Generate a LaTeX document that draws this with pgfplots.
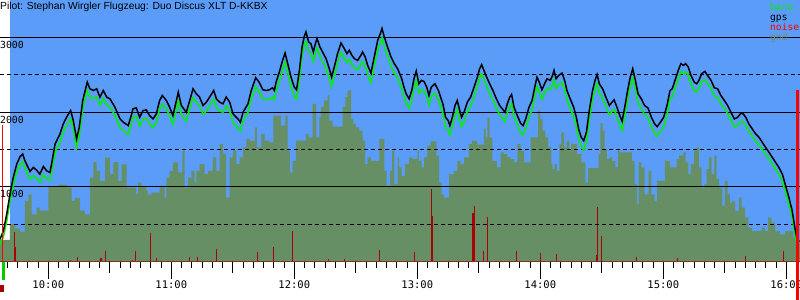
\documentclass[border=0pt]{standalone}
\usepackage{fontspec}
\setmainfont{Liberation Sans}
\newfontfamily\monofont{DejaVu Sans Mono}
\usepackage{pgfplots}
\pgfplotsset{compat=1.18}
\definecolor{skyblue}{RGB}{90,156,248}
\definecolor{gndcol}{RGB}{102,143,102}
\definecolor{gndtxt}{RGB}{118,140,100}
\definecolor{barocol}{RGB}{0,240,0}
\definecolor{noisecol}{RGB}{170,0,0}
\definecolor{basecol}{RGB}{150,0,0}

\pgfplotstableread{
t alt
576.4 296
578.1 408
579.7 632
581.3 900
582.9 1124
584.6 1304
586.2 1402
587.5 1438
588.6 1348
591.1 1205
592.7 1259
594.3 1223
595.9 1169
597.6 1272
599.2 1214
600.8 1192
601.6 1304
603.3 1572
605.7 1707
607.3 1841
608.9 1931
610.9 2020
612.2 1886
613.8 1640
615.1 1796
616.8 2155
618.4 2334
619.0 2401
620.3 2312
622.0 2289
623.6 2312
625.2 2200
626.8 2289
628.5 2200
630.1 2177
632.5 2065
635.0 1908
636.6 1864
639.0 1819
640.7 1976
641.3 2043
642.9 2056
644.6 1931
646.2 2020
647.8 2029
649.4 1953
651.1 1908
652.7 1976
654.3 2155
655.6 2222
657.6 2155
659.2 2065
660.8 1953
662.5 2155
663.4 2267
664.9 2088
667.3 1998
669.0 2155
670.6 2312
672.2 2244
673.8 2200
675.5 2088
677.1 2132
678.7 2200
680.7 2289
682.0 2177
683.6 2132
685.2 2110
686.8 2200
688.5 2132
690.1 1976
692.5 1908
693.7 1864
695.0 1998
697.4 2110
699.0 2289
701.2 2460
702.8 2401
704.7 2298
706.4 2289
707.8 2298
709.4 2325
710.3 2289
711.1 2401
712.7 2536
714.3 2692
715.5 2791
716.8 2648
718.4 2468
720.0 2334
721.1 2298
722.5 2558
723.8 2872
724.9 3015
725.7 3073
727.0 2939
728.1 2916
729.3 2804
730.3 2916
731.1 2984
732.5 2872
734.2 2782
735.5 2715
737.1 2580
738.2 2468
739.5 2603
741.1 2782
742.8 2925
744.4 2849
745.7 2782
746.8 2827
748.1 2760
749.3 2715
750.9 2692
752.5 2760
753.3 2804
754.6 2737
755.8 2625
757.4 2522
759.0 2737
760.7 2961
762.0 3051
762.8 3118
763.9 3006
765.5 2872
767.2 2737
768.8 2648
770.4 2580
771.1 2536
772.4 2446
773.5 2334
774.6 2244
776.0 2177
777.3 2289
778.4 2446
779.5 2549
780.8 2379
782.0 2424
783.3 2410
784.6 2334
785.7 2222
786.8 2334
788.6 2379
790.3 2289
791.4 2200
792.5 2110
793.8 1931
795.1 1886
795.9 1819
797.1 1931
798.4 2088
799.5 2155
800.7 2020
801.6 1931
802.8 1998
804.4 2132
806.0 2200
807.7 2334
809.3 2468
810.4 2580
811.4 2634
812.5 2558
813.7 2477
815.3 2379
816.9 2289
818.6 2177
820.2 2088
821.5 2043
822.8 1998
823.9 2110
825.1 2200
826.0 2236
827.2 2065
828.8 1953
830.4 1850
831.6 1819
832.9 1908
834.5 2065
836.0 2155
837.3 2334
838.4 2468
839.5 2401
840.8 2298
842.1 2379
843.3 2446
844.9 2424
846.0 2491
846.7 2558
847.7 2446
849.0 2491
850.6 2522
851.9 2424
853.0 2289
854.6 2177
856.3 2065
857.6 1931
858.7 1774
860.0 1662
861.2 1617
862.5 1729
863.9 2020
865.5 2289
866.8 2433
867.7 2504
868.8 2379
870.4 2312
872.0 2200
873.7 2088
875.0 2132
876.0 2164
877.4 2065
878.5 1976
879.9 1877
881.2 2065
882.6 2289
883.9 2468
885.1 2580
886.4 2424
887.7 2244
889.3 2177
890.9 2088
892.5 2056
894.2 1931
895.8 1841
897.0 1805
898.6 1864
900.2 1931
901.8 2088
903.3 2289
904.4 2312
905.7 2424
907.3 2558
908.6 2648
909.8 2625
910.9 2648
912.2 2603
913.5 2491
915.1 2401
916.3 2379
917.4 2424
918.7 2513
920.3 2545
921.6 2491
923.3 2424
924.9 2325
926.5 2312
928.1 2222
929.8 2155
931.4 2088
933.0 1998
934.7 1908
936.3 1931
937.9 1985
939.0 1976
940.2 1931
941.8 1841
943.4 1774
945.1 1707
946.7 1662
948.3 1595
949.9 1528
951.6 1460
953.2 1393
954.8 1326
956.4 1259
958.1 1169
959.7 1012
961.3 856
962.9 676
964.2 452
965.1 318
965.9 273
966.5 273
}\gpstable

\pgfplotstableread{
t alt
576.4 228
578.1 330
579.7 540
581.3 800
582.9 1020
584.6 1200
586.2 1300
587.5 1335
588.6 1250
591.1 1100
592.7 1150
594.3 1115
595.9 1060
597.6 1165
599.2 1105
600.8 1085
601.6 1190
603.3 1460
605.7 1595
607.3 1730
608.9 1820
610.9 1910
612.2 1775
613.8 1530
615.1 1685
616.8 2045
618.4 2225
619.0 2290
620.3 2200
622.0 2180
623.6 2200
625.2 2090
626.8 2180
628.5 2090
630.1 2065
632.5 1955
635.0 1795
636.6 1750
639.0 1700
640.7 1860
641.3 1930
642.9 1945
644.6 1815
646.2 1905
647.8 1915
649.4 1840
651.1 1790
652.7 1860
654.3 2040
655.6 2105
657.6 2040
659.2 1950
660.8 1835
662.5 2040
663.4 2150
664.9 1970
667.3 1880
669.0 2040
670.6 2195
672.2 2130
673.8 2085
675.5 1970
677.1 2015
678.7 2085
680.7 2175
682.0 2060
683.6 2015
685.2 1995
686.8 2085
688.5 2015
690.1 1860
692.5 1790
693.7 1745
695.0 1880
697.4 1995
699.0 2170
701.2 2340
702.8 2280
704.7 2175
706.4 2165
707.8 2173
709.4 2200
710.3 2164
711.1 2276
712.7 2411
714.3 2567
715.5 2666
716.8 2523
718.4 2343
720.0 2209
721.1 2173
722.5 2433
723.8 2747
724.9 2890
725.7 2948
727.0 2814
728.1 2791
729.3 2679
730.3 2791
731.1 2859
732.5 2747
734.2 2657
735.5 2590
737.1 2455
738.2 2343
739.5 2478
741.1 2657
742.8 2800
744.4 2724
745.7 2657
746.8 2702
748.1 2635
749.3 2590
750.9 2567
752.5 2635
753.3 2679
754.6 2612
755.8 2500
757.4 2397
759.0 2612
760.7 2836
762.0 2926
762.8 2993
763.9 2881
765.5 2747
767.2 2612
768.8 2523
770.4 2455
771.1 2411
772.4 2321
773.5 2209
774.6 2119
776.0 2052
777.3 2164
778.4 2321
779.5 2424
780.8 2254
782.0 2299
783.3 2285
784.6 2209
785.7 2097
786.8 2209
788.6 2254
790.3 2164
791.4 2075
792.5 1985
793.8 1806
795.1 1761
795.9 1694
797.1 1806
798.4 1963
799.5 2030
800.7 1895
801.6 1806
802.8 1873
804.4 2007
806.0 2075
807.7 2209
809.3 2343
810.4 2455
811.4 2509
812.5 2433
813.7 2352
815.3 2254
816.9 2164
818.6 2052
820.2 1963
821.5 1918
822.8 1873
823.9 1985
825.1 2075
826.0 2111
827.2 1940
828.8 1828
830.4 1725
831.6 1694
832.9 1783
834.5 1940
836.0 2030
837.3 2209
838.4 2343
839.5 2276
840.8 2173
842.1 2254
843.3 2321
844.9 2299
846.0 2366
846.7 2433
847.7 2321
849.0 2366
850.6 2397
851.9 2299
853.0 2164
854.6 2052
856.3 1940
857.6 1806
858.7 1649
860.0 1537
861.2 1492
862.5 1604
863.9 1895
865.5 2164
866.8 2308
867.7 2379
868.8 2254
870.4 2187
872.0 2075
873.7 1963
875.0 2007
876.0 2039
877.4 1940
878.5 1851
879.9 1752
881.2 1940
882.6 2164
883.9 2343
885.1 2455
886.4 2299
887.7 2119
889.3 2052
890.9 1963
892.5 1931
894.2 1806
895.8 1716
897.0 1680
898.6 1739
900.2 1806
901.8 1963
903.3 2180
904.4 2200
905.7 2315
907.3 2450
908.6 2540
909.8 2515
910.9 2540
912.2 2495
913.5 2380
915.1 2290
916.3 2270
917.4 2315
918.7 2405
920.3 2435
921.6 2380
923.3 2315
924.9 2215
926.5 2200
928.1 2110
929.8 2045
931.4 1980
933.0 1890
934.7 1800
936.3 1820
937.9 1875
939.0 1865
940.2 1820
941.8 1740
943.4 1675
945.1 1610
946.7 1565
948.3 1500
949.9 1435
951.6 1370
953.2 1300
954.8 1235
956.4 1165
958.1 1075
959.7 920
961.3 765
962.9 590
964.2 370
965.1 255
965.9 237
966.5 237
}\barotable

\pgfplotstableread{
t alt
576.4 290
581.3 500
583.8 440
586.2 400
588.6 810
590.3 900
591.9 630
594.3 720
595.9 680
600.0 1010
604.9 1030
608.9 990
611.4 810
613.0 850
615.5 680
617.9 630
620.3 1120
622.0 1330
623.6 1210
625.2 1080
627.7 1390
630.1 1170
631.7 1330
634.2 1080
635.8 1300
638.2 990
640.7 1010
641.3 990
642.9 900
643.8 1057
645.4 1012
647.8 945
648.6 900
650.3 923
654.3 1012
656.8 856
657.6 1124
659.2 1214
660.8 1326
663.3 1192
665.4 1483
666.5 990
668.2 1124
669.8 1214
671.4 1057
672.2 1214
673.8 1304
676.3 1169
677.9 1214
680.3 1393
682.0 1214
683.6 1572
685.2 1438
686.8 856
688.5 1393
690.1 1483
691.7 1304
693.3 1393
695.0 1528
696.6 1640
698.2 1617
700.8 1796
701.8 1528
704.0 1707
705.5 1617
706.2 1617
707.8 1595
709.8 1953
713.5 1819
715.6 1953
716.8 1483
717.9 1192
719.2 1348
720.8 1617
725.7 1707
727.0 1662
729.0 2110
730.6 1662
732.2 1931
733.0 2065
734.6 2155
736.3 2222
737.1 1886
738.7 1805
743.6 2065
744.9 2200
746.0 2289
747.7 1908
748.8 1841
750.1 1796
751.7 1752
753.3 1617
754.6 1304
755.8 1393
757.4 1348
761.5 1640
763.9 1214
765.0 1012
766.7 1214
767.7 1483
768.8 1035
770.4 1393
771.1 1259
772.4 1147
774.0 1304
776.0 1393
777.6 1371
780.0 1483
780.8 1348
782.1 1259
783.3 1393
784.9 1550
786.5 1608
789.3 1416
790.6 1057
791.9 900
793.0 856
795.5 1169
797.9 1214
799.5 1348
801.2 1304
802.8 1393
805.2 1572
806.8 1617
809.3 1563
812.5 1774
813.3 1662
814.2 1922
815.3 1662
816.6 1348
819.0 1259
820.7 1460
822.3 1438
823.9 1393
825.5 1371
827.2 1326
828.8 1572
830.4 1483
832.1 1326
835.3 1662
836.0 1662
838.9 2020
840.0 1908
841.2 1752
842.5 1662
843.8 1528
845.4 1304
846.0 1237
847.0 1304
848.1 1214
849.3 1572
850.3 1729
851.6 1528
852.9 1617
854.2 1483
855.1 1572
857.9 1438
860.0 1326
862.0 1057
863.3 1250
868.5 1438
869.3 1850
870.4 1752
871.4 1505
872.5 1371
873.7 1393
875.0 1348
876.6 1259
877.9 1483
879.0 1460
884.7 1348
886.0 1035
887.2 766
888.0 1326
889.3 1259
890.9 900
892.9 1214
894.2 900
895.8 811
897.0 1080
899.4 1080
900.8 1348
903.3 1259
906.5 1371
907.7 1416
909.8 1460
910.9 1326
912.2 1169
913.5 1304
915.1 1483
916.3 1528
917.4 1259
918.7 990
920.0 1035
921.2 1237
922.3 1393
923.6 1169
924.9 1416
926.0 1102
927.2 990
928.8 744
930.1 1080
931.4 900
932.5 788
933.7 811
935.0 676
936.9 856
938.2 721
939.9 587
941.5 452
943.4 408
948.0 452
949.6 408
951.2 587
952.9 520
954.5 408
956.9 363
959.4 408
963.4 318
965.1 250
966.7 250
}\gndtable

\pgfplotstableread{
t alt
583.4 392
584.1 190
610.7 15
614.1 58
625.7 50
627.8 138
641.0 20
642.6 139
649.8 385
652.7 49
669.0 58
673.0 58
681.9 161
701.9 130
709.8 193
719.0 408
736.6 36
744.4 36
761.5 157
778.5 130
786.8 968
787.3 609
807.2 654
807.8 744
812.2 139
814.1 596
828.3 139
840.0 116
847.8 103
867.3 85
867.8 730
869.8 340
886.8 58
906.8 49
940.3 72
958.5 139
}\noisetable

\begin{document}
\begin{tikzpicture}
\begin{axis}[
  name=ax,
  scale only axis,
  width=800bp, height=261.5bp,
  xmin=576.44, xmax=966.7, ymin=0, ymax=3500,
  clip=false,
  axis x line*=bottom, axis y line*=left,
  x axis line style={draw=basecol, line width=2bp, -},
  y axis line style={draw=none},
  ytick=\empty,
  xtick={600,660,720,780,840,900,960},
  xticklabels={10:00,11:00,12:00,13:00,14:00,15:00,16:00},
  minor xtick={580,585,...,965},
  extra x ticks={630,690,750,810,870,930},
  extra x tick labels={,,,,,},
  extra x tick style={major tick length=11bp},
  major tick length=17bp, minor tick length=6bp,
  tick align=outside,
  tick style={black, line width=1bp},
  xticklabel style={font=\monofont\fontsize{10.5bp}{12bp}\selectfont, inner sep=1bp, yshift=-1.5bp},
]
\fill[white] (axis cs:576.44,0) rectangle (axis cs:581.3,3500);
\fill[skyblue] (axis cs:581.3,0) rectangle (axis cs:966.7,3500);

\addplot[const plot, draw=none, fill=gndcol] table[x=t,y=alt] {\gndtable} \closedcycle;
\addplot[ycomb, noisecol, line width=1.1bp, mark=none] table[x=t,y=alt] {\noisetable};

\draw[black, line width=1bp] (axis cs:576.44,1000) -- (axis cs:966.7,1000);
\draw[black, line width=1bp] (axis cs:576.44,2000) -- (axis cs:966.7,2000);
\draw[black, line width=1bp] (axis cs:576.44,3000) -- (axis cs:966.7,3000);
\draw[black, line width=1bp, dash pattern=on 4bp off 3bp] (axis cs:576.44,500) -- (axis cs:966.7,500);
\draw[black, line width=1bp, dash pattern=on 4bp off 3bp] (axis cs:576.44,1500) -- (axis cs:966.7,1500);
\draw[black, line width=1bp, dash pattern=on 4bp off 3bp] (axis cs:576.44,2500) -- (axis cs:966.7,2500);

\addplot[barocol, line width=1.5bp, mark=none] table[x=t,y=alt] {\barotable};
\addplot[black, line width=1.5bp, mark=none] table[x=t,y=alt] {\gpstable};

\addplot[red, line width=1bp, mark=none] coordinates {(577.7,0) (577.7,1833)};
\addplot[red, line width=3bp, mark=none] coordinates {(965.6,-515) (965.6,2298)};
\fill[green!80!black] (axis cs:577.3,-10) rectangle (axis cs:578.9,-248);
\fill[noisecol] (axis cs:576.44,-314) rectangle (axis cs:578.4,-408);

\node[anchor=base west, inner sep=0pt, font=\monofont\fontsize{9.8bp}{11bp}\selectfont, yshift=-11bp] at (axis cs:576.44,3000) {3000};
\node[anchor=base west, inner sep=0pt, font=\monofont\fontsize{9.8bp}{11bp}\selectfont, yshift=-11bp] at (axis cs:576.44,2000) {2000};
\node[anchor=base west, inner sep=0pt, font=\monofont\fontsize{9.8bp}{11bp}\selectfont, yshift=-11bp] at (axis cs:576.44,1000) {1000};

\node[anchor=base west, inner sep=0pt, font=\fontsize{10.3bp}{11bp}\selectfont, yshift=-9.5bp] at (rel axis cs:0,1) {Pilot: Stephan Wirgler Flugzeug: Duo Discus XLT D-KKBX};

\node[anchor=base west, inner sep=0pt, text=barocol, font=\monofont\fontsize{9.6bp}{11bp}\selectfont, xshift=770bp, yshift=-10.5bp] at (rel axis cs:0,1) {baro};
\node[anchor=base west, inner sep=0pt, text=black, font=\monofont\fontsize{9.6bp}{11bp}\selectfont, xshift=770bp, yshift=-20.5bp] at (rel axis cs:0,1) {gps};
\node[anchor=base west, inner sep=0pt, text=red, font=\monofont\fontsize{9.6bp}{11bp}\selectfont, xshift=770bp, yshift=-30.5bp] at (rel axis cs:0,1) {noise};
\node[anchor=base west, inner sep=0pt, text=gndtxt, font=\monofont\fontsize{9.6bp}{11bp}\selectfont, xshift=770bp, yshift=-40.5bp] at (rel axis cs:0,1) {gnd};
\end{axis}
\pgfresetboundingbox
\path[use as bounding box] ([yshift=-38.5bp]ax.south west) rectangle (ax.north east);
\end{tikzpicture}
\end{document}
